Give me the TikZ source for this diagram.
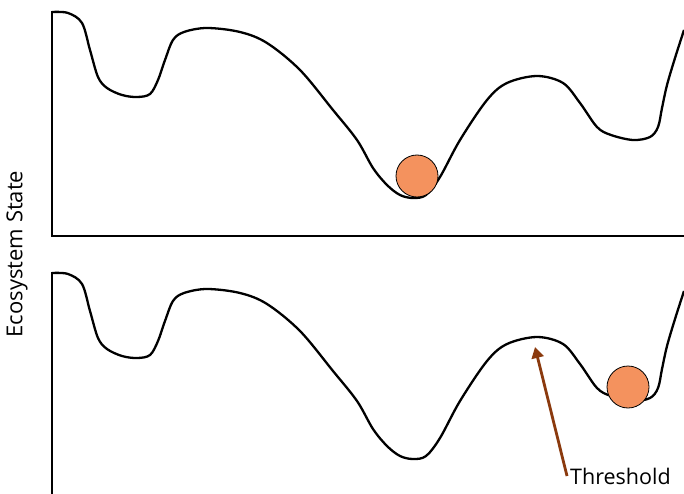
\documentclass[tikz,border=0pt]{standalone}
\usepackage{fontspec}
\setmainfont{Open Sans}
\definecolor{ballorange}{HTML}{F4925E}
\definecolor{arrowbrown}{HTML}{8B3A0E}
\usetikzlibrary{arrows.meta}
\newcommand{\drawterrain}{%
  \draw[line width=2.3pt,line join=round] plot[smooth,tension=0.55] coordinates {
    (52,12) (68,13) (82,23) (90,50) (98,77) (107,88) (122,95) (137,97)
    (150,94) (158,80) (165,60) (173,40) (184,32) (207,28) (240,32)
    (267,43) (300,70) (333,110) (357,140) (373,168) (387,185) (400,195)
    (413,198) (426,195) (440,177) (460,140) (487,100) (507,83) (537,76)
    (563,83) (580,103) (597,127) (611,135) (633,140) (650,137) (658,127)
    (662,108) (667,85) (675,58) (684,30)};}

\begin{document}
\begin{tikzpicture}[x=1pt,y=-1pt,
    ball/.style={circle,draw=black,line width=0.8pt,fill=ballorange,
      minimum size=42pt,inner sep=0pt},
    axisline/.style={line width=2.4pt,line cap=rect}]
    \useasboundingbox (0,0) rectangle (684,494);
    % Panel (a)
    \begin{scope}
      \draw[axisline] (52,12) -- (52,236) -- (684,236);
      \drawterrain
      \node[ball] (ballA) at (417,176) {};
    \end{scope}
    % Panel (b)
    \begin{scope}[yshift=-261pt]
      \draw[axisline] (52,12) -- (52,240);
      \drawterrain
      \node[ball] (ballB) at (628,126) {};
      \coordinate (peak) at (535,86);
    \end{scope}
    \node[font=\fontsize{22}{26}\selectfont,rotate=90] (ylab) at (17,254) {Ecosystem State};
    \node[font=\fontsize{21.5}{26}\selectfont,anchor=west,inner sep=3pt] (thr) at (567,476) {Threshold};
    \draw[arrowbrown,line width=2.8pt,-{Triangle[length=11pt,width=12pt]}] (thr.west) -- (peak);
  \end{tikzpicture}
\end{document}
